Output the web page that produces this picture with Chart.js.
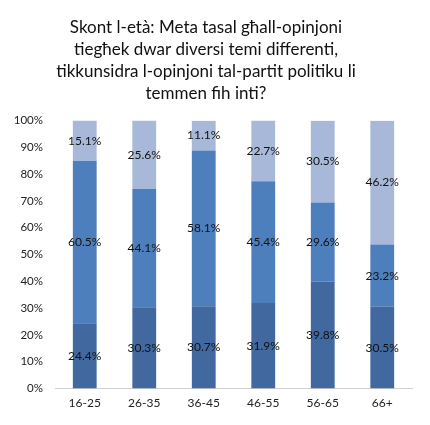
<!DOCTYPE html>
<html>
<head>
<meta charset="utf-8">
<script src="https://cdn.jsdelivr.net/npm/chart.js@4"></script>
<style>
  html, body { margin: 0; padding: 0; background: #fff; }
  #wrap { width: 430px; height: 425px; }
</style>
</head>
<body>
<div id="wrap"><canvas id="myChart" width="430" height="425"></canvas></div>
<script>
const ageGroups = ['16-25', '26-35', '36-45', '46-55', '56-65', '66+'];

// bottom, middle, top segments (percent)
const bottomVals = [24.4, 30.3, 30.7, 31.9, 39.8, 30.5];
const middleVals = [60.5, 44.1, 58.1, 45.4, 29.6, 23.2];
const topVals = [15.1, 25.6, 11.1, 22.7, 30.5, 46.2];

const titleLines = [
  'Skont l-età: Meta tasal għall-opinjoni',
  'tiegħek dwar diversi temi differenti,',
  'tikkunsidra l-opinjoni tal-partit politiku li',
  'temmen fih inti?'
];

// draw the % value in the middle of each segment
const segLabels = {
  id: 'segLabels',
  afterDatasetsDraw(chart) {
    const ctx = chart.ctx;
    ctx.save();
    ctx.font = '12px Lato';
    ctx.fillStyle = '#111';
    ctx.textAlign = 'center';
    ctx.textBaseline = 'middle';
    chart.data.datasets.forEach(function (ds, i) {
      const meta = chart.getDatasetMeta(i);
      meta.data.forEach(function (bar, j) {
        const p = bar.getProps(['x', 'y', 'base'], true);
        ctx.fillText(ds.data[j].toFixed(1) + '%', p.x, (p.y + p.base) / 2);
      });
    });
    ctx.restore();
  }
};

const data = {
  labels: ageGroups,
  datasets: [{
    data: bottomVals,
    backgroundColor: '#41699f'
  }, {
    data: middleVals,
    backgroundColor: '#4e7fbd'
  }, {
    data: topVals,
    backgroundColor: '#a7b8d9'
  }]
};

const config = {
  type: 'bar',
  data: data,
  options: {
    responsive: false,
    animation: false,
    categoryPercentage: 1,
    barPercentage: 0.4,
    layout: { padding: { left: 0, right: 18, top: 0, bottom: 8 } },
    plugins: {
      legend: { display: false },
      tooltip: { enabled: false },
      title: {
        display: true,
        text: titleLines,
        color: '#111',
        font: { family: 'Lato', size: 17, weight: 'normal', lineHeight: 1.3 },
        padding: { top: 16, bottom: 16 }
      }
    },
    scales: {
      x: {
        stacked: true,
        grid: { display: false, drawTicks: false },
        border: { color: '#d0d0d0' },
        ticks: { color: '#222', font: { family: 'Lato', size: 12 }, padding: 7 }
      },
      y: {
        stacked: true,
        min: 0,
        max: 100,
        grid: { display: false },
        border: { display: false },
        ticks: {
          stepSize: 10,
          color: '#222',
          padding: 4,
          font: { family: 'Lato', size: 11.5 },
          callback: function (v) { return v + '%'; }
        },
        afterFit: function (scale) { scale.width = 55; }
      }
    }
  },
  plugins: [segLabels]
};

const myChart = new Chart(document.getElementById('myChart'), config);
</script>
</body>
</html>
